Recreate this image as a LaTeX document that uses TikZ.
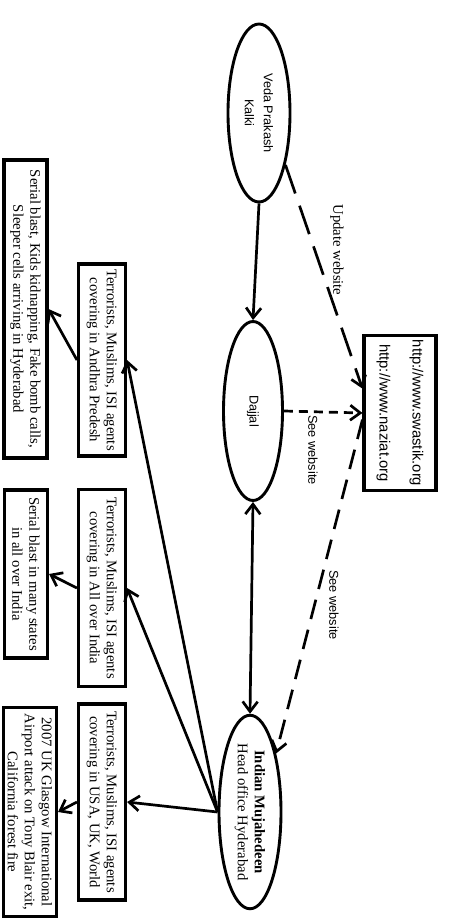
\documentclass[tikz,border=0pt]{standalone}
\usepackage{fontspec}
\setmainfont{Liberation Serif}
\setsansfont{Liberation Sans}
\usetikzlibrary{shapes.geometric,arrows.meta}
\tikzset{>={Straight Barb[length=10pt,width=15pt]}}
\tikzset{
  actor/.style = {
    draw, ellipse, line width=2.9pt, inner sep=0pt,
    minimum width=178pt, minimum height=62pt,
    align=center, font=\fontsize{12.7}{19}\selectfont\sffamily
  },
  infobox/.style = {
    draw, rectangle, line width=3.1pt, inner sep=0pt,
    minimum height=47pt,
    align=center, font=\fontsize{14.7}{17}\selectfont
  },
  flow/.style = {->, line width=2.7pt},
  lbl/.style = {inner sep=0pt, font=\fontsize{12.8}{15}\selectfont\sffamily}
}

\begin{document}
\begin{tikzpicture}[rotate=-90, transform shape, x=1pt, y=1pt]
  \useasboundingbox (0,0) rectangle (920,460);
  % people and groups
  \node[actor] (kalki) at (113,259) {Veda Prakash\\Kalki};
  \node[actor, minimum width=179pt, minimum height=59pt] (dajjal) at (411,253) {Dajjal};
  \node[actor, font=\fontsize{14.7}{17}\selectfont\rmfamily] (im) at (812,250)
    {\textbf{Indian Mujahedeen}\\Head office Hyderabad};
  % websites
  \node[infobox, minimum width=155pt, minimum height=72pt,
    font=\fontsize{14.8}{33}\selectfont\sffamily] (web) at (413,400)
    {http://www.swastik.org\\http://www.naziat.org};
  % agents
  \node[infobox, minimum width=192pt] (andhra) at (360,102)
    {Terrorists, Muslims, ISI agents\\covering in Andhra Predesh};
  \node[infobox, minimum width=197pt] (india) at (588,102)
    {Terrorists, Muslims, ISI agents\\covering in All over India};
  \node[infobox, minimum width=196pt] (world) at (802,102)
    {Terrorists, Muslims, ISI agents\\covering in USA, UK, World};
  % attacks
  \node[infobox, minimum width=298pt, minimum height=43pt] (hydblast) at (309,25.5)
    {Serial blast, Kids kidnapping, Fake bomb calls,\\Sleeper cells arriving in Hyderabad};
  \node[infobox, minimum width=168pt, minimum height=43pt] (indblast) at (574,26)
    {Serial blast in many states\\in all over India};
  \node[infobox, minimum width=209pt, minimum height=53pt] (ukblast) at (812,30)
    {2007 UK Glasgow International\\Airport attack on Tony Blair exit,\\California forest fire};
  % connectors
  \draw[flow] (kalki.east) -- (dajjal.west);
  \draw[flow, dash pattern=on 30pt off 13pt] (kalki.27) -- (web.237);
  \draw[flow, dash pattern=on 9pt off 6pt] (dajjal.north) -- (web.south);
  \draw[flow, dash pattern=on 20pt off 11pt] (web.280) -- (im.156);
  \draw[flow, <->] (dajjal.east) -- (im.west);
  \draw[flow] (im.south) -- (andhra.north);
  \draw[flow] (im.south) -- (india.north);
  \draw[flow] (im.south) -- (world.north);
  \draw[flow] (andhra.south) -- (hydblast.north);
  \draw[flow] (india.south) -- (indblast.north);
  \draw[flow] (world.south) -- (ukblast.north);
  % labels
  \node[lbl, font=\fontsize{14.7}{17}\selectfont\rmfamily] (update) at (250,337) {Update website};
  \node[lbl] (seeweb) at (450,313) {See website};
  \node[lbl] (seeim) at (605,334) {See website};
\end{tikzpicture}
\end{document}
